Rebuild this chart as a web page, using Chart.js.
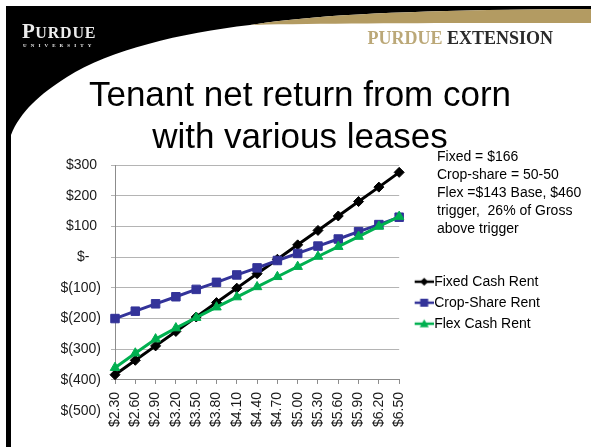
<!DOCTYPE html>
<html>
<head>
<meta charset="utf-8">
<script src="https://cdn.jsdelivr.net/npm/chart.js@4.4.1/dist/chart.umd.min.js"></script>
<style>
html, body { margin: 0; padding: 0; background: #fff; }
#slide { position: relative; width: 591px; height: 447px; overflow: hidden; font-family: Arial, "Liberation Sans", sans-serif; }
#bg { position: absolute; left: 0; top: 0; }
#chart_rent { position: absolute; left: 0; top: 0; }
.logo { position: absolute; left: 22px; top: 21px; color: #ececec; font-family: "Liberation Serif", "Times New Roman", serif; font-weight: bold; white-space: nowrap; }
.logo .big { font-size: 21px; line-height: 21px; letter-spacing: 0.5px; }
.logo .small { font-size: 16px; letter-spacing: 0.8px; }
.logo .uni { position: absolute; left: 1px; top: 22px; font-size: 5px; letter-spacing: 4.1px; line-height: 5px; }
.ext { position: absolute; right: 38px; top: 27px; font-family: "Liberation Serif", "Times New Roman", serif; font-weight: bold; font-size: 18px; line-height: 22px; white-space: nowrap; }
.ext .gold { color: #bba878; }
.ext .dark { color: #2b2b2b; }
.title { position: absolute; left: 0; width: 600px; text-align: center; font-size: 35px; line-height: 42px; color: #000; white-space: nowrap; }
.note { position: absolute; left: 437px; top: 147px; font-size: 14px; line-height: 18px; color: #000; white-space: nowrap; }
</style>
</head>
<body>
<div id="slide">
  <svg id="bg" width="591" height="447">
    <path d="M6,6 H591 V9 C420,10 320,14 250,25 C180,33 110,50 67,77 C40,94 20,112 11,135 V447 H6 Z" fill="#000"/>
    <path d="M250,25 C320,14 420,10 591,9 V23 C450,23 330,23 250,25 Z" fill="#b39b62"/>
  </svg>
  <canvas id="chart_rent" width="591" height="447"></canvas>
  <div class="logo"><span class="big">P</span><span class="small">URDUE</span><div class="uni">UNIVERSITY</div></div>
  <div class="ext"><span class="gold">PURDUE</span> <span class="dark">EXTENSION</span></div>
  <div class="note">Fixed = $166<br>Crop-share = 50-50<br>Flex =$143 Base, $460<br>trigger,&nbsp; 26% of Gross<br>above trigger</div>
  <div class="title" style="top:73px;">Tenant net return from corn</div>
  <div class="title" style="top:115px;">with various leases</div>
</div>
<script>
var prices = ['$2.30','$2.60','$2.90','$3.20','$3.50','$3.80','$4.10','$4.40','$4.70','$5.00','$5.30','$5.60','$5.90','$6.20','$6.50'];
var fixedRent = [-383,-336,-289,-242,-195,-148,-101,-54,-7,40,87,134,181,228,276];
var cropShare = [-200,-176,-152,-129,-105,-82,-58,-35,-11,12,36,59,83,106,130];
var flexRent = [-360,-313,-267,-231,-197,-163,-130,-97,-64,-31,2,34,67,100,132];
var yTicks = [300,200,100,0,-100,-200,-300,-400,-500];
var seriesNames = ['Fixed Cash Rent','Crop-Share Rent','Flex Cash Rent'];
var cores = ['#000000','#333399','#00b050'];

// accounting style labels like Excel
function money(v) {
    if (v === 0) return '$-   ';
    if (v < 0) return '$(' + Math.abs(v) + ')';
    return '$' + v + ' ';
}

// legend swatch: line with the marker on it
function legendIcon(color, shape) {
    var c = document.createElement('canvas');
    c.width = 34; c.height = 14;
    var g = c.getContext('2d');
    g.strokeStyle = color; g.fillStyle = color; g.lineWidth = 2.5;
    g.beginPath(); g.moveTo(15, 7); g.lineTo(34, 7); g.stroke();
    g.beginPath();
    if (shape === 'rectRot') {
        g.moveTo(24.5, 3); g.lineTo(28.5, 7); g.lineTo(24.5, 11); g.lineTo(20.5, 7);
    } else if (shape === 'rect') {
        g.rect(20.5, 3, 8, 8);
    } else {
        g.moveTo(24.5, 2.5); g.lineTo(29, 10.5); g.lineTo(20, 10.5);
    }
    g.closePath(); g.fill();
    return c;
}
var icons = [legendIcon(cores[0], 'rectRot'), legendIcon(cores[1], 'rect'), legendIcon(cores[2], 'triangle')];

var ctx = document.getElementById('chart_rent');
var chartLine = new Chart(ctx, {
    type: 'line',
    data: {
        labels: prices,
        datasets: [
            { label: seriesNames[0], data: fixedRent, borderColor: cores[0], backgroundColor: cores[0],
              borderWidth: 3, pointStyle: 'rectRot', pointRadius: 5, pointBorderWidth: 1, tension: 0, order: 3 },
            { label: seriesNames[1], data: cropShare, borderColor: cores[1], backgroundColor: cores[1],
              borderWidth: 3, pointStyle: 'rect', pointRadius: 6, pointBorderWidth: 1, tension: 0, order: 2 },
            { label: seriesNames[2], data: flexRent, borderColor: cores[2], backgroundColor: cores[2],
              borderWidth: 3, pointStyle: 'triangle', pointRadius: 5.5, pointBorderWidth: 1, tension: 0, order: 1 }
        ]
    },
    options: {
        responsive: false,
        animation: false,
        layout: { padding: { top: 165, left: 61, right: 41, bottom: 12 } },
        plugins: {
            tooltip: { enabled: false },
            legend: {
                position: 'right',
                align: 'start',
                maxWidth: 200,
                title: { display: true, text: '', font: { size: 12 }, padding: { top: 88.3, bottom: 0 } },
                labels: {
                    usePointStyle: true,
                    pointStyleWidth: 21,
                    padding: 7,
                    color: '#000',
                    font: { family: 'Arial, "Liberation Sans", sans-serif', size: 14 },
                    generateLabels: function(chart) {
                        return chart.data.datasets.map(function(ds, i) {
                            return { text: ds.label, pointStyle: icons[i], fillStyle: ds.borderColor,
                                     strokeStyle: ds.borderColor, fontColor: '#000', lineWidth: 0,
                                     hidden: false, datasetIndex: i };
                        });
                    }
                }
            }
        },
        scales: {
            x: {
                offset: false,
                grid: { drawOnChartArea: false, tickLength: 4, color: '#8c8c8c' },
                border: { color: '#8c8c8c' },
                ticks: {
                    autoSkip: false, minRotation: 90, maxRotation: 90, padding: 8, color: '#1a1a1a',
                    font: { family: 'Arial, "Liberation Sans", sans-serif', size: 14 }
                }
            },
            y: {
                min: -400,
                max: 300,
                afterBuildTicks: function(scale) {
                    scale.ticks = yTicks.map(function(v) { return { value: v }; });
                },
                afterFit: function(scale) { scale.width = 54; },
                grid: {
                    tickLength: 4,
                    color: function(c) { return (c.tick && c.tick.value === -500) ? 'rgba(0,0,0,0)' : '#b4b4b4'; }
                },
                border: { color: '#8c8c8c' },
                ticks: {
                    padding: 10, color: '#1a1a1a',
                    font: { family: 'Arial, "Liberation Sans", sans-serif', size: 14 },
                    callback: function(value) { return money(value); }
                }
            }
        }
    }
});
</script>
</body>
</html>
